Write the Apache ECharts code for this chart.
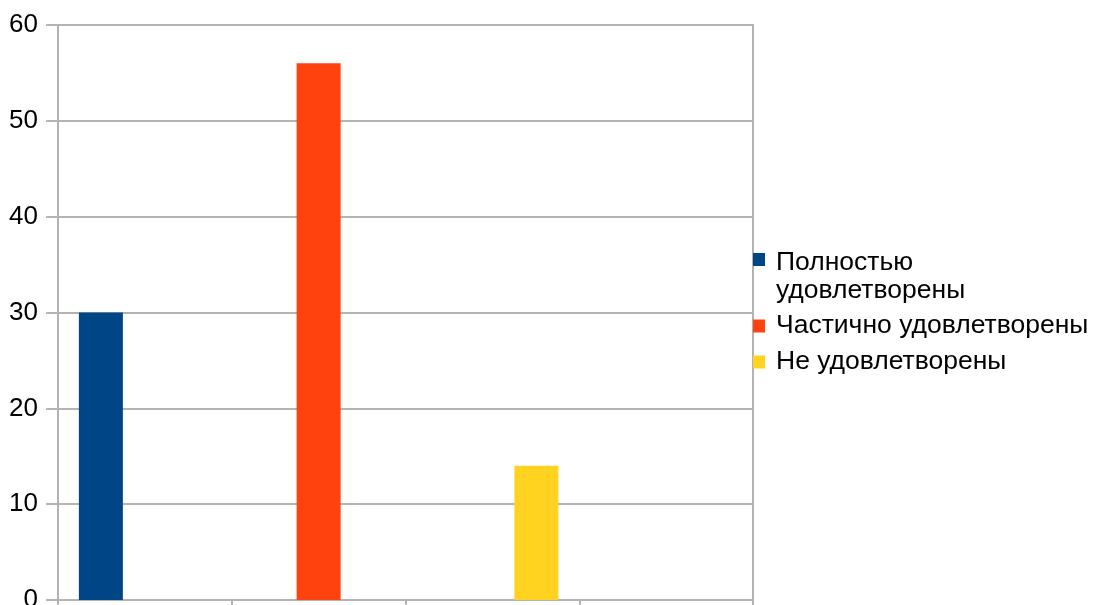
<!DOCTYPE html>
<html><head><meta charset="utf-8">
<script src="https://cdn.jsdelivr.net/npm/echarts@6/dist/echarts.min.js"></script>
<style>html,body{margin:0;padding:0;background:#fff}#c{width:1096px;height:605px}</style>
</head><body><div id="c"></div>
<script>
const categories = ['', '', '', ''];
const seriesNames = ['Полностью удовлетворены', 'Частично удовлетворены', 'Не удовлетворены'];
const fullySatisfied = [30, null, null, null];
const partiallySatisfied = [null, 56, null, null];
const notSatisfied = [null, null, 14, null];
const yTicks = { min: 0, max: 60, interval: 10 };

const colors = ['#004586', '#ff420e', '#ffd320'];
const font = 'Liberation Sans, Arial, sans-serif';
const gridColor = '#b3b3b3';
const chart = echarts.init(document.getElementById('c'));
const tallIcon = 'path://M0,0L0.01,0L0.01,0.01L0,0.01Z M0,4L12,4L12,17L0,17Z M0,55.99L0.01,55.99L0.01,56L0,56Z';
chart.setOption({
  animation: false,
  color: colors,
  grid: { left: 58, right: 343, top: 25, bottom: 5, outerBoundsMode: 'none', containLabel: false,
          show: true, borderColor: gridColor, borderWidth: 2 },
  legend: [
    { data: [seriesNames[0]], orient: 'vertical', left: 753, top: 249, padding: 0,
      itemWidth: 12, itemHeight: 56, icon: tallIcon, itemGap: 0,
      formatter: n => 'Полностью\nудовлетворены',
      textStyle: { fontFamily: font, fontSize: 26.5, color: '#000', lineHeight: 28, padding: [0, 0, 0, 6] } },
    { data: [seriesNames[1], seriesNames[2]], orient: 'vertical', left: 753, top: 312, padding: 0,
      itemWidth: 12, itemHeight: 13, icon: 'rect', itemGap: 8,
      textStyle: { fontFamily: font, fontSize: 26.5, color: '#000', lineHeight: 28, padding: [0, 0, 0, 6] } }
  ],
  xAxis: {
    type: 'category', data: categories, boundaryGap: true,
    axisLine: { lineStyle: { color: gridColor, width: 2 } },
    axisTick: { show: true, length: 6, lineStyle: { color: gridColor, width: 2 } },
    axisLabel: { show: false }, splitLine: { show: false }
  },
  yAxis: {
    type: 'value', min: yTicks.min, max: yTicks.max, interval: yTicks.interval,
    axisLine: { show: true, lineStyle: { color: gridColor, width: 2 } },
    axisTick: { show: true, length: 12, lineStyle: { color: gridColor, width: 2 } },
    axisLabel: { fontFamily: font, fontSize: 26, color: '#000', margin: 20 },
    splitLine: { show: true, lineStyle: { color: gridColor, width: 2 } }
  },
  series: [
    { name: seriesNames[0], type: 'bar', data: fullySatisfied, barWidth: 44, barGap: '0%' },
    { name: seriesNames[1], type: 'bar', data: partiallySatisfied, barWidth: 44, barGap: '0%' },
    { name: seriesNames[2], type: 'bar', data: notSatisfied, barWidth: 44, barGap: '0%' }
  ]
});
</script></body></html>
